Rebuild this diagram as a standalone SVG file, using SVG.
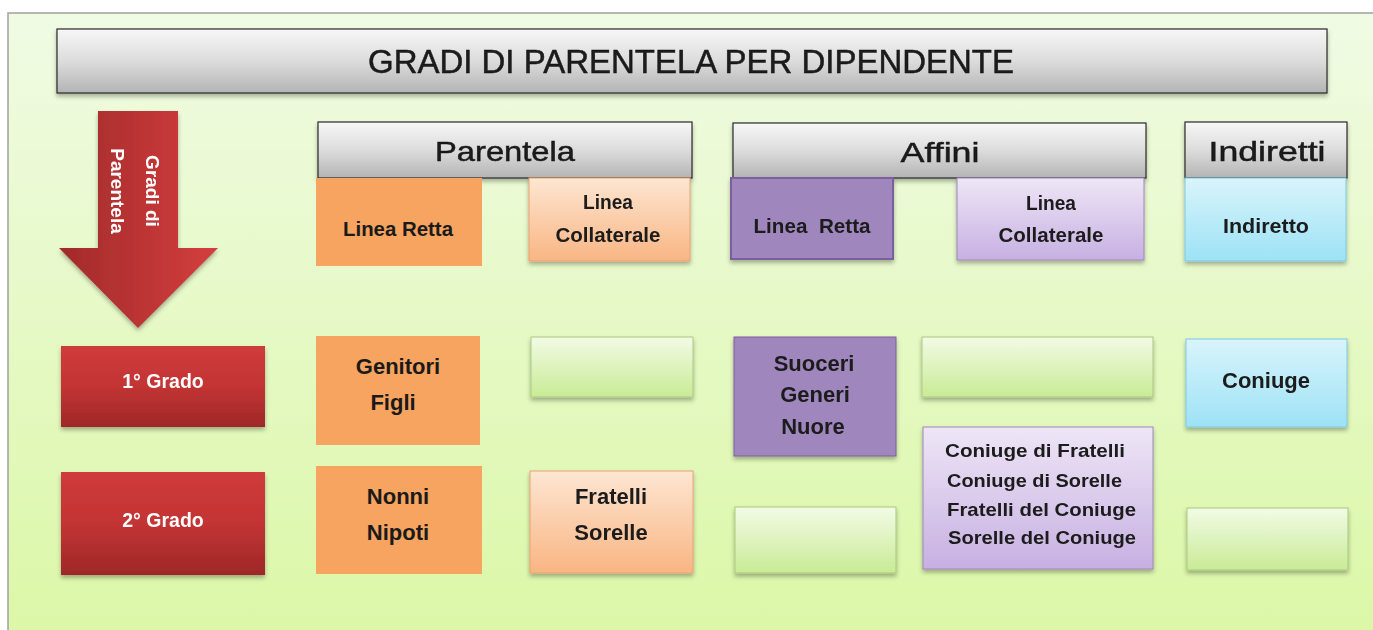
<svg xmlns="http://www.w3.org/2000/svg" width="1373" height="630" viewBox="0 0 1373 630">
<defs>
<linearGradient id="bg" x1="0" y1="0" x2="0" y2="1"><stop offset="0" stop-color="#f0fbe4"/><stop offset="1" stop-color="#dbf7a6"/></linearGradient>
<linearGradient id="gray" x1="0" y1="0" x2="0" y2="1"><stop offset="0" stop-color="#f7f7f7"/><stop offset="0.5" stop-color="#dcdcdc"/><stop offset="1" stop-color="#b4b4b4"/></linearGradient>
<linearGradient id="green" x1="0" y1="0" x2="0" y2="1"><stop offset="0" stop-color="#f2fbe6"/><stop offset="1" stop-color="#c9eb95"/></linearGradient>
<linearGradient id="peach" x1="0" y1="0" x2="0" y2="1"><stop offset="0" stop-color="#fde6d2"/><stop offset="1" stop-color="#f9b583"/></linearGradient>
<linearGradient id="lav" x1="0" y1="0" x2="0" y2="1"><stop offset="0" stop-color="#eee6f6"/><stop offset="1" stop-color="#c7b0e2"/></linearGradient>
<linearGradient id="blue" x1="0" y1="0" x2="0" y2="1"><stop offset="0" stop-color="#d9f4fb"/><stop offset="1" stop-color="#9de2f6"/></linearGradient>
<linearGradient id="red" x1="0" y1="0" x2="0" y2="1"><stop offset="0" stop-color="#cf3b3b"/><stop offset="0.5" stop-color="#c33434"/><stop offset="1" stop-color="#9e2828"/></linearGradient>
<linearGradient id="redh" x1="0" y1="0" x2="1" y2="0"><stop offset="0" stop-color="#a22a2a"/><stop offset="1" stop-color="#d43e3e"/></linearGradient>
<filter id="sh" x="-10%" y="-10%" width="120%" height="130%"><feDropShadow dx="0" dy="3" stdDeviation="2" flood-color="#000" flood-opacity="0.3"/></filter>
</defs>
<style>
.hdr{fill:url(#gray);stroke:#2a2a2a;stroke-width:1.2}
.green{fill:url(#green);stroke:#a9c97c;stroke-width:1}
.peach{fill:url(#peach);stroke:#eaa272;stroke-width:1}
.orange{fill:#f6a45f}
.purple{fill:#9f86bc;stroke:#7c5f9e;stroke-width:2}
.lav{fill:url(#lav);stroke:#9e86bc;stroke-width:1}
.blue{fill:url(#blue);stroke:#7fc9e0;stroke-width:1}
.red{fill:url(#red)}
text{font-family:"Liberation Sans",Arial,sans-serif;fill:#1a1a1a}
.h{stroke:#1a1a1a;stroke-width:0.5;text-anchor:middle}
.h1{font-size:33px}
.h2{font-size:28px}
.s{font-size:19.5px;font-weight:bold;text-anchor:middle}
.m{font-size:22px;font-weight:bold;text-anchor:middle}
.w{fill:#ffffff}
.l{font-size:18.5px;font-weight:bold}
</style>
<rect x="0" y="0" width="1373" height="630" fill="#ffffff"/>
<rect x="8" y="13" width="1370" height="630" fill="url(#bg)" stroke="#a0a0a0" stroke-width="1.5"/>

<g id="title" filter="url(#sh)">
<rect class="hdr" x="57" y="29" width="1270" height="64"/>
<text class="h h1" x="691" y="73" textLength="646" lengthAdjust="spacingAndGlyphs">GRADI DI PARENTELA PER DIPENDENTE</text>
</g>

<g id="arrow" filter="url(#sh)">
<path d="M98,111 L178,111 L178,248 L218,248 L138,328 L59,248 L98,248 Z" fill="url(#redh)"/>
<text class="w" font-size="19" font-weight="bold" text-anchor="middle" transform="translate(146,191) rotate(90)">Gradi di</text>
<text class="w" font-size="19" font-weight="bold" text-anchor="middle" transform="translate(111,191) rotate(90)">Parentela</text>
</g>

<g id="hdr-parentela" filter="url(#sh)">
<rect class="hdr" x="318" y="122" width="374" height="56"/>
<text class="h h2" x="505" y="161" textLength="140" lengthAdjust="spacingAndGlyphs">Parentela</text>
</g>
<g id="hdr-affini" filter="url(#sh)">
<rect class="hdr" x="733" y="123" width="413" height="55"/>
<text class="h h2" x="940" y="162" textLength="79" lengthAdjust="spacingAndGlyphs">Affini</text>
</g>
<g id="hdr-indiretti" filter="url(#sh)">
<rect class="hdr" x="1185" y="122" width="162" height="56"/>
<text class="h h2" x="1267" y="161" textLength="117" lengthAdjust="spacingAndGlyphs">Indiretti</text>
</g>

<g id="p-lr">
<rect class="orange" x="316" y="178" width="166" height="88"/>
<text class="s" x="398" y="236" textLength="110" lengthAdjust="spacingAndGlyphs">Linea Retta</text>
</g>
<g id="p-lc" filter="url(#sh)">
<rect class="peach" x="529" y="178" width="161" height="83"/>
<text class="s" x="608" y="209" textLength="50" lengthAdjust="spacingAndGlyphs">Linea</text>
<text class="s" x="608" y="242" textLength="105" lengthAdjust="spacingAndGlyphs">Collaterale</text>
</g>
<g id="a-lr" filter="url(#sh)">
<rect class="purple" x="731" y="178" width="162" height="81"/>
<text class="s" x="812" y="233" xml:space="preserve" textLength="117" lengthAdjust="spacingAndGlyphs">Linea  Retta</text>
</g>
<g id="a-lc" filter="url(#sh)">
<rect class="lav" x="957" y="178" width="187" height="82"/>
<text class="s" x="1051" y="210" textLength="50" lengthAdjust="spacingAndGlyphs">Linea</text>
<text class="s" x="1051" y="242" textLength="105" lengthAdjust="spacingAndGlyphs">Collaterale</text>
</g>
<g id="i-ind" filter="url(#sh)">
<rect class="blue" x="1185" y="178" width="161" height="83"/>
<text class="s" x="1266" y="233" textLength="86" lengthAdjust="spacingAndGlyphs">Indiretto</text>
</g>

<g id="g1" filter="url(#sh)">
<rect class="red" x="61" y="346" width="204" height="81"/>
<text class="s w" x="163" y="388">1° Grado</text>
</g>
<g id="p-g1">
<rect class="orange" x="316" y="336" width="164" height="109"/>
<text class="m" x="398" y="374">Genitori</text>
<text class="m" x="393" y="410">Figli</text>
</g>
<g id="p-c1" filter="url(#sh)">
<rect class="green" x="531" y="337" width="162" height="60"/>
</g>
<g id="a-g1" filter="url(#sh)">
<rect class="purple" x="734" y="337" width="162" height="119" style="stroke-width:1"/>
<text class="m" x="814" y="371">Suoceri</text>
<text class="m" x="815" y="402">Generi</text>
<text class="m" x="813" y="434">Nuore</text>
</g>
<g id="a-c1" filter="url(#sh)">
<rect class="green" x="922" y="337" width="231" height="60"/>
</g>
<g id="i-g1" filter="url(#sh)">
<rect class="blue" x="1186" y="339" width="161" height="88"/>
<text class="m" x="1266" y="388">Coniuge</text>
</g>

<g id="g2" filter="url(#sh)">
<rect class="red" x="61" y="472" width="204" height="103"/>
<text class="s w" x="163" y="527">2° Grado</text>
</g>
<g id="p-g2">
<rect class="orange" x="316" y="466" width="166" height="108"/>
<text class="m" x="398" y="504">Nonni</text>
<text class="m" x="398" y="540">Nipoti</text>
</g>
<g id="p-c2" filter="url(#sh)">
<rect class="peach" x="530" y="471" width="163" height="102"/>
<text class="m" x="611" y="504">Fratelli</text>
<text class="m" x="611" y="540">Sorelle</text>
</g>
<g id="a-g2" filter="url(#sh)">
<rect class="green" x="735" y="507" width="161" height="66"/>
</g>
<g id="a-c2" filter="url(#sh)">
<rect class="lav" x="923" y="427" width="230" height="142"/>
<text class="l" x="945" y="457" textLength="180" lengthAdjust="spacingAndGlyphs">Coniuge di Fratelli</text>
<text class="l" x="947" y="487" textLength="175" lengthAdjust="spacingAndGlyphs">Coniuge di Sorelle</text>
<text class="l" x="947" y="516" textLength="189" lengthAdjust="spacingAndGlyphs">Fratelli del Coniuge</text>
<text class="l" x="948" y="544" textLength="188" lengthAdjust="spacingAndGlyphs">Sorelle del Coniuge</text>
</g>
<g id="i-g2" filter="url(#sh)">
<rect class="green" x="1187" y="508" width="161" height="62"/>
</g>
<g id="connectors"/>
</svg>
